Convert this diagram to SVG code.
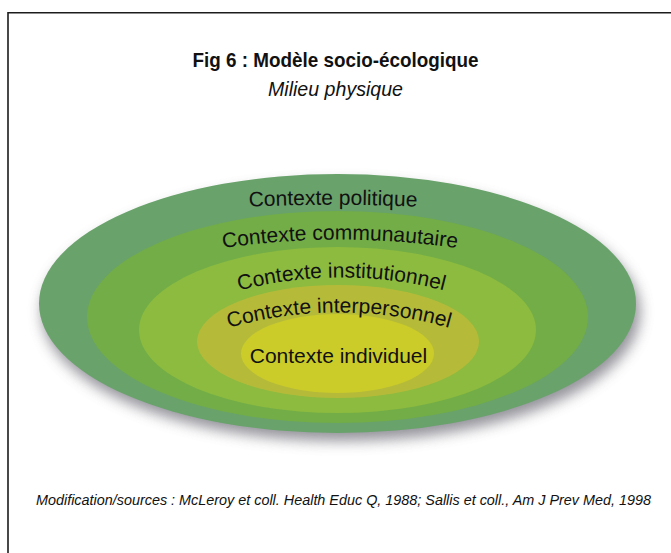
<svg xmlns="http://www.w3.org/2000/svg" width="671" height="553" viewBox="0 0 671 553">
  <style>
    .frame { fill: none; stroke: #1c1c1c; stroke-width: 1.6; }
    .title { font-family: "Liberation Sans", Arial, sans-serif; font-weight: bold; font-size: 21px; fill: #111; text-anchor: middle; }
    .subtitle { font-family: "Liberation Sans", Arial, sans-serif; font-style: italic; font-size: 20px; fill: #111; text-anchor: middle; }
    .source { font-family: "Liberation Sans", Arial, sans-serif; font-style: italic; font-size: 14px; fill: #111; }
    .ring-label { font-family: "Liberation Sans", Arial, sans-serif; font-size: 21px; fill: #111; text-anchor: middle; }
    .politique { fill: #69a26b; }
    .communautaire { fill: #72ad47; }
    .institutionnel { fill: #8cbb3f; }
    .interpersonnel { fill: #b5bb39; }
    .individuel { fill: #cbcb2a; }
  </style>
  <defs>
    <filter id="soft-shadow" x="-20%" y="-30%" width="140%" height="160%">
      <feGaussianBlur stdDeviation="7"/>
    </filter>
    <!-- baselines for the arched ring labels -->
    <path id="arc-politique" d="M 183 211 A 1800 1800 0 0 1 483 211"/>
    <path id="arc-communautaire" d="M 190 253.5 A 819 819 0 0 1 490 253.5"/>
    <path id="arc-institutionnel" d="M 191.5 306 A 408 408 0 0 1 491.5 306"/>
    <path id="arc-interpersonnel" d="M 189 341.5 A 402 402 0 0 1 489 341.5"/>
  </defs>

  <rect width="671" height="553" fill="#ffffff"/>
  <polyline class="frame" points="671,12.8 8,12.8 8,553"/>

  <text class="title" x="335.5" y="67" textLength="286" lengthAdjust="spacingAndGlyphs">Fig 6 : Modèle socio-écologique</text>
  <text class="subtitle" x="335.5" y="96" textLength="135" lengthAdjust="spacingAndGlyphs">Milieu physique</text>

  <!-- drop shadow under the outer ring -->
  <ellipse cx="341" cy="312" rx="299" ry="129" fill="#6e6e78" opacity="0.75" filter="url(#soft-shadow)"/>

  <g id="contexte-politique">
    <ellipse class="politique" cx="337.5" cy="303.5" rx="298.5" ry="129.5"/>
  </g>
  <g id="contexte-communautaire">
    <ellipse class="communautaire" cx="337.5" cy="317" rx="250.5" ry="106"/>
  </g>
  <g id="contexte-institutionnel">
    <ellipse class="institutionnel" cx="337.5" cy="330" rx="198.5" ry="83"/>
  </g>
  <g id="contexte-interpersonnel">
    <ellipse class="interpersonnel" cx="338" cy="341.5" rx="141" ry="56.5"/>
  </g>
  <g id="contexte-individuel">
    <ellipse class="individuel" cx="337.5" cy="353.5" rx="96.5" ry="39.5"/>
  </g>

  <g id="ring-labels">
    <text class="ring-label"><textPath href="#arc-politique" startOffset="50%">Contexte politique</textPath></text>
    <text class="ring-label"><textPath href="#arc-communautaire" startOffset="50%">Contexte communautaire</textPath></text>
    <text class="ring-label"><textPath href="#arc-institutionnel" startOffset="50%">Contexte institutionnel</textPath></text>
    <text class="ring-label"><textPath href="#arc-interpersonnel" startOffset="50%">Contexte interpersonnel</textPath></text>
    <text class="ring-label" x="338.5" y="363">Contexte individuel</text>
  </g>

  <text class="source" x="36" y="505" textLength="615" lengthAdjust="spacingAndGlyphs">Modification/sources : McLeroy et coll. Health Educ Q, 1988; Sallis et coll., Am J Prev Med, 1998</text>
</svg>
